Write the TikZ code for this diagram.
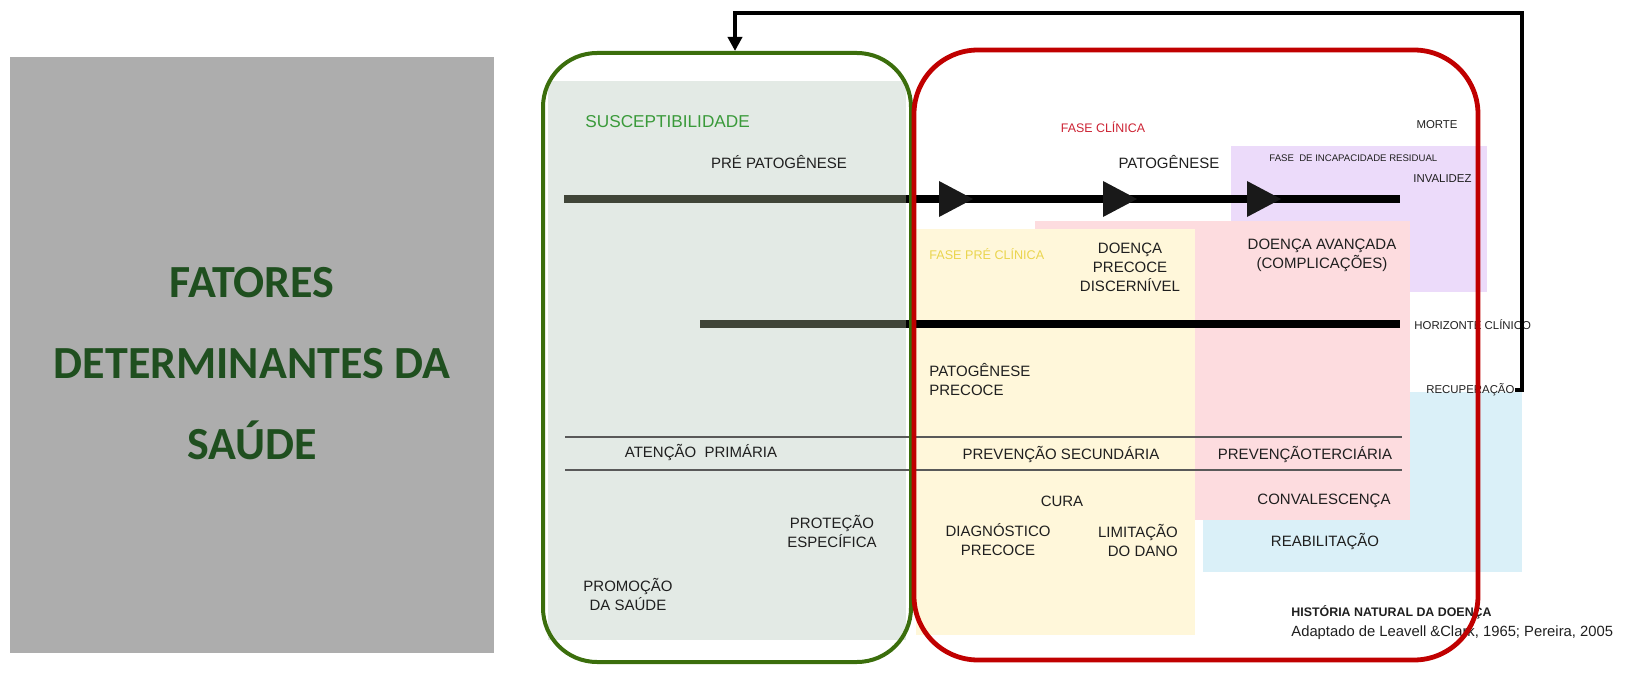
\documentclass[tikz,border=0pt]{standalone}
\usepackage{fontspec}
\setmainfont{Liberation Sans}
\newfontfamily\titlefont{Carlito}
\usetikzlibrary{arrows.meta}
\definecolor{boxgray}{HTML}{ADADAD}
\definecolor{titlegreen}{HTML}{1F4F1F}
\definecolor{bggreen}{HTML}{E3EAE5}
\definecolor{bgyellow}{HTML}{FFF7DA}
\definecolor{bgpink}{HTML}{FDDCDF}
\definecolor{bgpurple}{HTML}{ECDBFA}
\definecolor{bgblue}{HTML}{DAF0F8}
\definecolor{bordergreen}{HTML}{3B6E0C}
\definecolor{borderred}{HTML}{C00000}
\definecolor{txtgreen}{HTML}{3A9A3A}
\definecolor{txtred}{HTML}{CC2233}
\definecolor{txtyellow}{HTML}{EAD54E}
\definecolor{linegray}{HTML}{404538}
\begin{document}
\begin{tikzpicture}[x=0.5pt,y=-0.5pt,
  lbl/.style={inner sep=0, font=\fontsize{7.5}{9.5}\selectfont, text=black!88, align=center},
  sml/.style={inner sep=0, font=\fontsize{5.7}{7}\selectfont, text=black!88, align=center},
  tiny/.style={inner sep=0, font=\fontsize{4.8}{6}\selectfont, text=black!88, align=center},
  timeline/.style={line width=4pt},
  thinline/.style={line width=0.6pt, draw=black!65},
  arrowhead/.style={fill=black!90},
]
\useasboundingbox (0,0) rectangle (1634,690);
% left title box
\fill[boxgray] (10,57) rectangle (494,653);
\node[inner sep=0, font=\titlefont\bfseries\fontsize{23}{40.5}\selectfont, text=titlegreen, align=center] (title) at (252,364) {FATORES\\DETERMINANTES DA\\SAÚDE};

% background panels
\fill[bggreen] (548,81) rectangle (906,640);
\fill[bgblue] (1203,392) rectangle (1522,572);
\fill[bgpurple] (1231,146) rectangle (1487,292);
\fill[bgpink] (1035,221) rectangle (1410,520);
\fill[bgyellow] (916,229) rectangle (1195,635);

% time lines
\coordinate (l1a) at (564,199);
\coordinate (l1b) at (906,199);
\coordinate (l1c) at (1400,199);
\coordinate (l2a) at (700,324);
\coordinate (l2b) at (906,324);
\coordinate (l2c) at (1400,324);
\draw[timeline, draw=linegray] (l1a) -- (l1b);
\draw[timeline, draw=black] (l1b) -- (l1c);
\draw[timeline, draw=linegray] (l2a) -- (l2b);
\draw[timeline, draw=black] (l2b) -- (l2c);
\fill[arrowhead] (939,181) -- (973,199) -- (939,217) -- cycle;
\fill[arrowhead] (1103,181) -- (1137,199) -- (1103,217) -- cycle;
\fill[arrowhead] (1247,181) -- (1281,199) -- (1247,217) -- cycle;

% thin separator lines
\coordinate (t1a) at (565,437);
\coordinate (t1b) at (1402,437);
\coordinate (t2a) at (565,470);
\coordinate (t2b) at (1402,470);
\draw[thinline] (t1a) -- (t1b);
\draw[thinline] (t2a) -- (t2b);

% texts
\node[lbl, font=\fontsize{8.6}{10}\selectfont, text=txtgreen, anchor=west] (susc) at (585,122) {SUSCEPTIBILIDADE};
\node[lbl] (prepat) at (779,162) {PRÉ PATOGÊNESE};
\node[sml, font=\fontsize{6.2}{7.5}\selectfont, text=txtred] (fclin) at (1103,127) {FASE CLÍNICA};
\node[sml] (morte) at (1437,125) {MORTE};
\node[lbl] (pat) at (1169,162) {PATOGÊNESE};
\node[tiny, anchor=west] (fir) at (1269,158) {FASE \ DE INCAPACIDADE RESIDUAL};
\node[sml, anchor=west] (inval) at (1413,179) {INVALIDEZ};
\node[sml, font=\fontsize{6.3}{7.5}\selectfont, text=txtyellow, anchor=west] (fpre) at (929,254) {FASE PRÉ CLÍNICA};
\node[lbl] (dpd) at (1130,267) {DOENÇA\\PRECOCE\\DISCERNÍVEL};
\node[lbl] (dav) at (1322,255) {DOENÇA AVANÇADA\\(COMPLICAÇÕES)};
\node[sml, anchor=west] (horiz) at (1414,325) {HORIZONTE CLÍNICO};
\node[lbl, align=left, anchor=west] (patpre) at (929,380) {PATOGÊNESE\\PRECOCE};
\node[sml, anchor=west] (recup) at (1426,390) {RECUPERAÇÃO};
\node[lbl] (atp) at (701,453) {ATENÇÃO \ PRIMÁRIA};
\node[lbl] (psec) at (1061,455) {PREVENÇÃO SECUNDÁRIA};
\node[lbl] (pter) at (1305,455) {PREVENÇÃOTERCIÁRIA};
\node[lbl] (cura) at (1062,501) {CURA};
\node[lbl] (conv) at (1324,501) {CONVALESCENÇA};
\node[lbl] (prot) at (832,531) {PROTEÇÃO\\ESPECÍFICA};
\node[lbl] (diag) at (998,540) {DIAGNÓSTICO\\PRECOCE};
\node[lbl, align=right] (lim) at (1138,540) {LIMITAÇÃO\\DO DANO};
\node[lbl] (reab) at (1325,542) {REABILITAÇÃO};
\node[lbl] (prom) at (628,594) {PROMOÇÃO\\DA SAÚDE};
\node[inner sep=0, font=\bfseries\fontsize{6.2}{7.5}\selectfont, text=black!88, anchor=west] (hist) at (1291,612) {HISTÓRIA NATURAL DA DOENÇA};
\node[inner sep=0, font=\fontsize{7.4}{9}\selectfont, text=black!88, anchor=west] (adapt) at (1291,633) {Adaptado de Leavell \&Clark, 1965; Pereira, 2005};

% rounded frames
\node[draw=bordergreen, line width=2pt, rounded corners=27pt, inner sep=0, minimum width=184pt, minimum height=304.5pt] (green) at (727,357.5) {};
\node[draw=borderred, line width=2.4pt, rounded corners=32pt, inner sep=0, minimum width=282pt, minimum height=305pt] (red) at (1196,355) {};

% feedback connector
\coordinate (fb1) at (1522,13);
\coordinate (fb2) at (735,13);
\draw[line width=2pt, -{Triangle[length=7pt,width=7pt]}] (recup.east) -| (fb1) -- (fb2) -- (fb2 |- green.north);
\end{tikzpicture}
\end{document}
